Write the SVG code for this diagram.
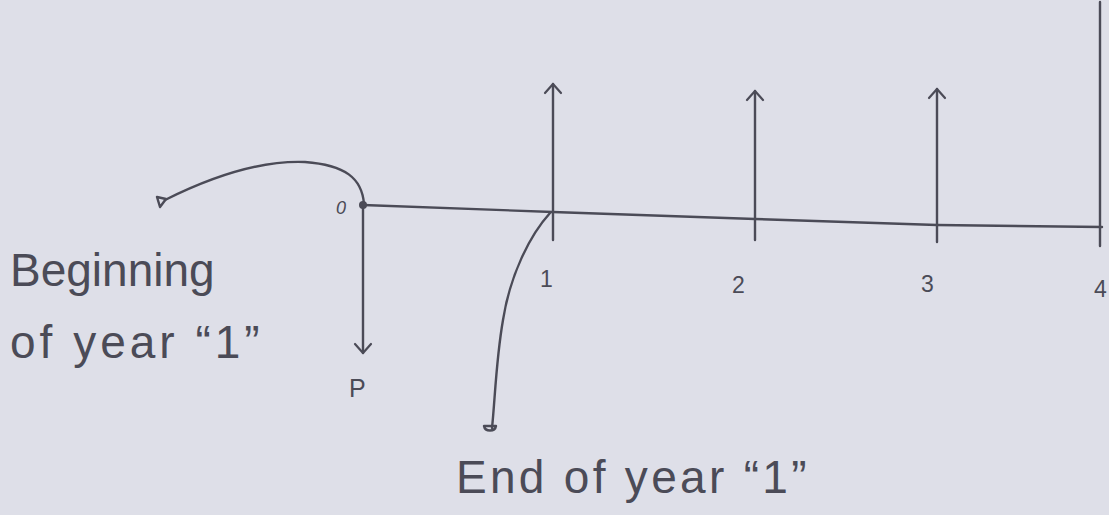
<svg xmlns="http://www.w3.org/2000/svg" width="1109" height="515" viewBox="0 0 1109 515">
<style>
.ln{fill:none;stroke:#4b4b57;stroke-width:2.4;stroke-linecap:round;stroke-linejoin:round}
.hand{font-family:"Liberation Sans",Arial,sans-serif;fill:#4b4b57}
.big{font-size:46px}
.num{font-size:23px}
</style>
<defs>
<marker id="open" viewBox="0 0 20 20" refX="18" refY="10" markerWidth="20" markerHeight="20" markerUnits="userSpaceOnUse" orient="auto">
<polyline points="9,2 18,10 9,18" fill="none" stroke="#4b4b57" stroke-width="2.2" stroke-linecap="round" stroke-linejoin="round"/>
</marker>
</defs>
<rect width="1109" height="515" fill="#dedfe8"/>
<g id="connectors">
<path class="ln" d="M363,205 L553,212 L755,219 L937,225 L1102,227"/>
<path class="ln" d="M553,240 L553,84" marker-end="url(#open)"/>
<path class="ln" d="M755,240 L755,91" marker-end="url(#open)"/>
<path class="ln" d="M937,242 L937,89" marker-end="url(#open)"/>
<path class="ln" d="M1100,246 L1100,2"/>
<path class="ln" d="M363,207 L363,353" marker-end="url(#open)"/>
<path class="ln" d="M364,204 C362,178 345,165 305,162 C255,160 205,180 165,200"/>
<path class="ln" d="M157,197 L166,199 L160,207 Z"/>
<path class="ln" d="M550,213 C530,235 510,275 503,320 C496,360 495,400 492,428"/>
<path class="ln" d="M484,426 L496,426 C495,432 485,432 484,426 Z"/>
</g>
<circle cx="363" cy="205" r="4" fill="#4b4b57"/>
<g id="label-0"><text class="hand" x="336" y="214" font-size="18" font-style="italic">0</text></g>
<g id="label-1"><text class="hand num" x="540" y="287">1</text></g>
<g id="label-2"><text class="hand num" x="732" y="293">2</text></g>
<g id="label-3"><text class="hand num" x="921" y="292">3</text></g>
<g id="label-4"><text class="hand num" x="1094" y="297">4</text></g>
<g id="label-P"><text class="hand" x="349" y="397" font-size="25">P</text></g>
<g id="label-begin">
<text class="hand big" x="10" y="286">Beginning</text>
<text class="hand big" x="10" y="358" letter-spacing="4">of year “1”</text>
</g>
<g id="label-end"><text class="hand big" x="456" y="493" letter-spacing="3.3">End of year “1”</text></g>
</svg>
